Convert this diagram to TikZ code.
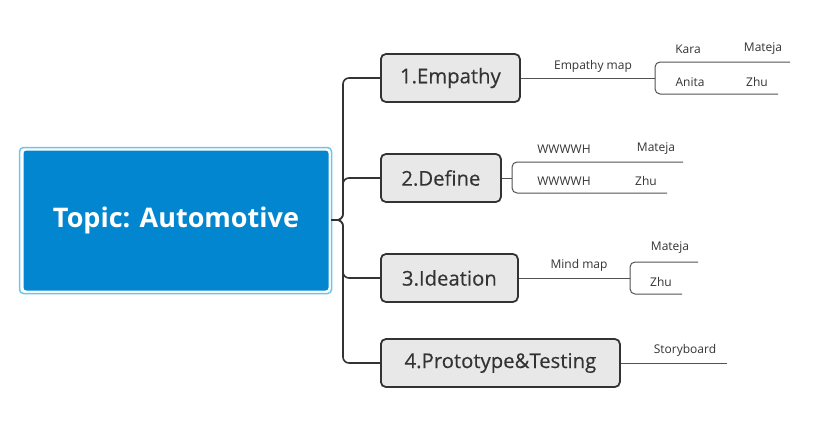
\documentclass[tikz,border=0pt]{standalone}
\usepackage{fontspec}
\setmainfont{Open Sans}
\newfontfamily\stagefont[FakeBold=0.35]{Open Sans}
\definecolor{topicblue}{HTML}{0386D0}
\definecolor{selblue}{HTML}{6CC4F0}
\definecolor{stagefill}{HTML}{E8E8E8}
\definecolor{ink}{HTML}{333333}
\begin{document}
\begin{tikzpicture}[x=1pt,y=-1pt,
  stagebox/.style={draw=ink, line width=1.8pt, fill=stagefill, rounded corners=5pt,
    minimum height=48pt, inner sep=0pt, anchor=west, text=ink,
    font=\stagefont\fontsize{20.3}{23}\selectfont},
  leaf/.style={inner sep=0pt, text=ink, font=\fontsize{12}{14}\selectfont},
  trunk/.style={draw=ink, line width=1.6pt, rounded corners=6pt},
  twig/.style={draw=ink!85, line width=1pt},
  bracket/.style={draw=ink!85, line width=1pt, rounded corners=5pt}]
\useasboundingbox (0,0) rectangle (840,431);
% root
\draw[selblue, line width=1.5pt, rounded corners=4pt] (19.5,147.5) rectangle (331.5,293.5);
\node[fill=topicblue, rounded corners=3pt, minimum width=305pt, minimum height=140pt, inner sep=0pt,
  text=white, font=\fontsize{27}{30}\selectfont\bfseries] (root) at (176,220.5) {Topic: Automotive};
\coordinate (rj) at (343,220);
% stages
\node[stagebox, minimum width=139pt] (s1) at (380,78) {1.Empathy};
\node[stagebox, minimum width=120pt] (s2) at (380,178) {2.Define};
\node[stagebox, minimum width=137pt] (s3) at (380,278) {3.Ideation};
\node[stagebox, minimum width=239pt] (s4) at (380,363) {4.Prototype\&Testing};
\foreach \s in {s1,s2,s3,s4}{
  \draw[trunk] (331,220) -- (rj) |- (\s.west);
}
% Empathy
\coordinate (ej) at (655,78);
\draw[twig] (s1.east) -- (ej);
\node[leaf] (emap) at (593,66) {Empathy map};
\coordinate (etop) at (790,62);
\coordinate (ebot) at (778,94);
\draw[bracket] (ej) |- (etop);
\draw[bracket] (ej) |- (ebot);
\node[leaf] (kara) at (688,49) {Kara};
\node[leaf] (mat1) at (763,49) {Mateja};
\node[leaf] (anita) at (690,82) {Anita};
\node[leaf] (zhu1) at (757,82) {Zhu};
% Define
\coordinate (dj) at (512,178);
\draw[twig] (s2.east) -- (dj);
\coordinate (dtop) at (683,162);
\coordinate (dbot) at (667,193);
\draw[bracket] (dj) |- (dtop);
\draw[bracket] (dj) |- (dbot);
\node[leaf] (w1) at (564,149) {WWWWH};
\node[leaf] (mat2) at (656,149) {Mateja};
\node[leaf] (w2) at (564,181) {WWWWH};
\node[leaf] (zhu2) at (646,181) {Zhu};
% Ideation
\coordinate (ij) at (630,278);
\draw[twig] (s3.east) -- (ij);
\node[leaf] (mmap) at (579,265) {Mind map};
\coordinate (itop) at (698,262);
\coordinate (ibot) at (682,294);
\draw[bracket] (ij) |- (itop);
\draw[bracket] (ij) |- (ibot);
\node[leaf] (mat3) at (670,248) {Mateja};
\node[leaf] (zhu3) at (661,282) {Zhu};
% Prototype
\coordinate (pend) at (727,363);
\draw[twig] (s4.east) -- (pend);
\node[leaf] (story) at (685,350) {Storyboard};
\end{tikzpicture}
\end{document}
